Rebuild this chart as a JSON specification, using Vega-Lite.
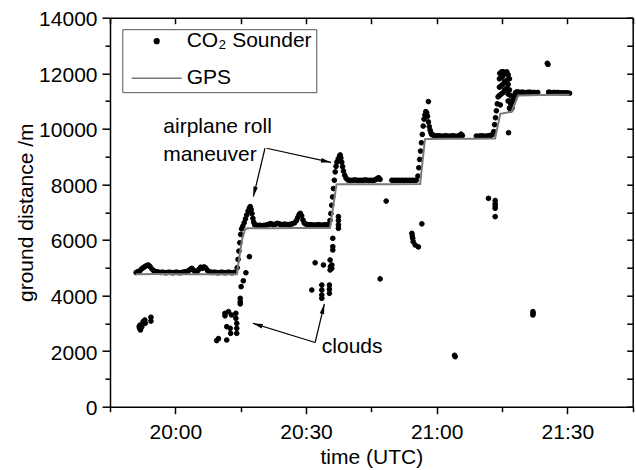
{
  "$schema": "https://vega.github.io/schema/vega-lite/v6.json",
  "width": 522.7,
  "height": 389,
  "autosize": {"type": "none"},
  "padding": {"left": 110, "top": 17.7, "right": 3.3, "bottom": 63.3},
  "background": "white",
  "config": {
    "font": "Liberation Sans",
    "view": {"stroke": null},
    "axis": {
      "grid": false,
      "domainColor": "black",
      "tickColor": "black",
      "labelColor": "black",
      "titleColor": "black",
      "domainWidth": 1.5,
      "tickWidth": 1.5,
      "labelFontSize": 21,
      "titleFontSize": 21,
      "titleFontWeight": "normal",
      "labelFont": "Liberation Sans",
      "titleFont": "Liberation Sans"
    }
  },
  "datasets": {
    "co2": [
      {"t":1191.0,"d":4830},{"t":1191.4,"d":4860},{"t":1191.8,"d":4880},{"t":1192.2,"d":4950},{"t":1192.6,"d":5000},{"t":1193.0,"d":5040},{"t":1193.4,"d":5080},{"t":1193.8,"d":5100},{"t":1194.2,"d":5040},{"t":1194.6,"d":4960},{"t":1195.0,"d":4900},{"t":1195.4,"d":4860},{"t":1195.8,"d":4850},{"t":1196.2,"d":4840},{"t":1196.6,"d":4830},{"t":1197.0,"d":4840},{"t":1197.4,"d":4830},{"t":1197.8,"d":4820},{"t":1198.2,"d":4830},{"t":1198.6,"d":4840},{"t":1199.0,"d":4830},{"t":1199.4,"d":4820},{"t":1199.8,"d":4830},{"t":1200.2,"d":4840},{"t":1200.6,"d":4830},{"t":1201.0,"d":4820},{"t":1201.4,"d":4830},{"t":1201.8,"d":4840},{"t":1202.2,"d":4850},{"t":1202.6,"d":4860},{"t":1203.0,"d":4890},{"t":1203.4,"d":4940},{"t":1203.8,"d":4980},{"t":1204.2,"d":4910},{"t":1204.6,"d":4860},{"t":1205.0,"d":4860},{"t":1205.4,"d":4940},{"t":1205.8,"d":5020},{"t":1206.2,"d":4980},{"t":1206.6,"d":5030},{"t":1207.0,"d":4990},{"t":1207.4,"d":4900},{"t":1207.8,"d":4850},{"t":1208.2,"d":4840},{"t":1208.6,"d":4830},{"t":1209.0,"d":4840},{"t":1209.4,"d":4830},{"t":1209.8,"d":4820},{"t":1210.2,"d":4830},{"t":1210.6,"d":4840},{"t":1211.0,"d":4830},{"t":1211.4,"d":4820},{"t":1211.8,"d":4830},{"t":1212.2,"d":4840},{"t":1212.6,"d":4830},{"t":1213.0,"d":4820},{"t":1213.4,"d":4830},{"t":1213.8,"d":4840},
      {"t":1214.2,"d":5000},{"t":1214.4,"d":5300},{"t":1214.6,"d":5600},{"t":1214.8,"d":5900},{"t":1215.0,"d":6200},{"t":1215.2,"d":6400},
      {"t":1215.5,"d":6500},{"t":1215.8,"d":6620},{"t":1216.1,"d":6760},{"t":1216.4,"d":6900},{"t":1216.7,"d":7040},{"t":1217.0,"d":7150},{"t":1217.2,"d":7200},{"t":1217.4,"d":7100},{"t":1217.6,"d":6950},{"t":1217.8,"d":6780},{"t":1218.0,"d":6640},
      {"t":1218.2,"d":6550},{"t":1218.6,"d":6530},{"t":1219.0,"d":6520},{"t":1219.4,"d":6530},{"t":1219.8,"d":6510},{"t":1220.2,"d":6520},{"t":1220.6,"d":6530},{"t":1221.0,"d":6540},{"t":1221.4,"d":6560},{"t":1221.8,"d":6590},{"t":1222.2,"d":6570},{"t":1222.6,"d":6550},{"t":1223.0,"d":6570},{"t":1223.4,"d":6600},{"t":1223.8,"d":6580},{"t":1224.2,"d":6560},{"t":1224.6,"d":6550},{"t":1225.0,"d":6570},{"t":1225.4,"d":6560},{"t":1225.8,"d":6550},{"t":1226.2,"d":6560},{"t":1226.6,"d":6570},{"t":1227.0,"d":6590},{"t":1227.4,"d":6620},{"t":1227.8,"d":6700},{"t":1228.1,"d":6810},{"t":1228.4,"d":6910},{"t":1228.7,"d":6960},{"t":1229.0,"d":6870},{"t":1229.3,"d":6720},{"t":1229.6,"d":6610},{"t":1230.0,"d":6570},{"t":1230.4,"d":6550},{"t":1230.8,"d":6540},{"t":1231.2,"d":6550},{"t":1231.6,"d":6540},{"t":1232.0,"d":6530},{"t":1232.4,"d":6540},{"t":1232.8,"d":6550},{"t":1233.2,"d":6540},{"t":1233.6,"d":6530},{"t":1234.0,"d":6540},{"t":1234.4,"d":6550},{"t":1234.8,"d":6540},{"t":1235.2,"d":6550},
      {"t":1235.5,"d":6700},{"t":1235.7,"d":6950},{"t":1235.9,"d":7250},{"t":1236.1,"d":7550},{"t":1236.3,"d":7850},{"t":1236.5,"d":8150},{"t":1236.7,"d":8450},{"t":1236.9,"d":8650},
      {"t":1237.1,"d":8800},{"t":1237.4,"d":8920},{"t":1237.7,"d":9020},{"t":1237.85,"d":9060},{"t":1238.0,"d":8950},{"t":1238.2,"d":8800},{"t":1238.4,"d":8640},{"t":1238.6,"d":8480},{"t":1238.9,"d":8330},{"t":1239.2,"d":8220},
      {"t":1239.6,"d":8160},{"t":1240.0,"d":8150},{"t":1240.4,"d":8140},{"t":1240.8,"d":8150},{"t":1241.2,"d":8160},{"t":1241.6,"d":8150},{"t":1242.0,"d":8140},{"t":1242.4,"d":8150},{"t":1242.8,"d":8140},{"t":1243.2,"d":8150},{"t":1243.6,"d":8160},{"t":1244.0,"d":8150},{"t":1244.4,"d":8140},{"t":1244.8,"d":8150},{"t":1245.2,"d":8140},{"t":1245.6,"d":8150},{"t":1246.0,"d":8170},{"t":1246.4,"d":8220},{"t":1246.7,"d":8240},{"t":1247.0,"d":8180},
      {"t":1249.7,"d":8150},{"t":1250.1,"d":8140},{"t":1250.5,"d":8150},{"t":1250.9,"d":8140},{"t":1251.3,"d":8150},{"t":1251.7,"d":8140},{"t":1252.1,"d":8150},{"t":1252.5,"d":8140},{"t":1252.9,"d":8150},{"t":1253.3,"d":8140},{"t":1253.7,"d":8150},{"t":1254.1,"d":8140},{"t":1254.5,"d":8150},{"t":1254.9,"d":8140},{"t":1255.3,"d":8150},
      {"t":1255.7,"d":8300},{"t":1255.9,"d":8600},{"t":1256.1,"d":8900},{"t":1256.3,"d":9200},{"t":1256.5,"d":9500},{"t":1256.7,"d":9800},{"t":1256.9,"d":10100},{"t":1257.1,"d":10350},{"t":1257.3,"d":10500},{"t":1257.5,"d":10620},{"t":1257.7,"d":10580},{"t":1257.9,"d":10450},{"t":1258.1,"d":10980},{"t":1258.1,"d":10250},{"t":1258.3,"d":10080},{"t":1258.5,"d":9950},{"t":1258.7,"d":9850},
      {"t":1258.9,"d":9790},{"t":1259.3,"d":9770},{"t":1259.7,"d":9750},{"t":1260.1,"d":9740},{"t":1260.5,"d":9750},{"t":1260.9,"d":9740},{"t":1261.3,"d":9730},{"t":1261.7,"d":9740},{"t":1262.1,"d":9750},{"t":1262.5,"d":9740},{"t":1262.9,"d":9730},{"t":1263.3,"d":9740},{"t":1263.7,"d":9750},{"t":1264.1,"d":9740},{"t":1264.5,"d":9730},{"t":1264.9,"d":9740},{"t":1265.3,"d":9760},{"t":1265.6,"d":9810},{"t":1265.9,"d":9760},
      {"t":1269.1,"d":9740},{"t":1269.5,"d":9730},{"t":1269.9,"d":9740},{"t":1270.3,"d":9750},{"t":1270.7,"d":9740},{"t":1271.1,"d":9730},{"t":1271.5,"d":9740},{"t":1271.9,"d":9750},{"t":1272.3,"d":9760},{"t":1272.7,"d":9780},
      {"t":1273.1,"d":9900},{"t":1273.3,"d":10150},{"t":1273.5,"d":10400},{"t":1273.7,"d":10650},{"t":1273.9,"d":10900},{"t":1274.1,"d":11150},
      {"t":1274.4,"d":11200},{"t":1274.4,"d":11500},{"t":1274.4,"d":11800},{"t":1274.5,"d":12000},{"t":1274.8,"d":11250},{"t":1274.8,"d":11550},{"t":1274.8,"d":11850},{"t":1274.9,"d":12050},{"t":1275.2,"d":11300},{"t":1275.2,"d":11600},{"t":1275.2,"d":11900},{"t":1275.3,"d":12050},{"t":1275.6,"d":11400},{"t":1275.6,"d":11700},{"t":1275.6,"d":12000},
      {"t":1276.1,"d":12050},{"t":1276.1,"d":11750},{"t":1276.1,"d":11450},{"t":1276.4,"d":11950},{"t":1276.4,"d":11600},{"t":1276.4,"d":11250},{"t":1276.4,"d":11000},{"t":1276.7,"d":11800},{"t":1276.7,"d":11400},{"t":1276.7,"d":11000},{"t":1276.7,"d":10750},{"t":1277.0,"d":11200},{"t":1277.0,"d":10900},{"t":1277.0,"d":10680},{"t":1277.3,"d":10750},{"t":1277.3,"d":10950},{"t":1277.6,"d":11050},{"t":1277.9,"d":11200},{"t":1278.1,"d":11300},{"t":1274.6,"d":10860},{"t":1276.5,"d":9860},
      {"t":1278.4,"d":11330},{"t":1278.8,"d":11320},{"t":1279.2,"d":11310},{"t":1279.6,"d":11320},{"t":1280.0,"d":11310},{"t":1280.4,"d":11300},{"t":1280.8,"d":11310},{"t":1281.2,"d":11320},{"t":1281.6,"d":11310},{"t":1282.0,"d":11300},{"t":1282.4,"d":11310},{"t":1282.8,"d":11300},{"t":1283.2,"d":11310},
      {"t":1285.7,"d":11320},{"t":1286.1,"d":11310},{"t":1286.5,"d":11300},{"t":1286.9,"d":11310},{"t":1287.3,"d":11300},{"t":1287.7,"d":11310},{"t":1288.1,"d":11300},{"t":1288.5,"d":11290},{"t":1288.9,"d":11300},{"t":1289.3,"d":11290},{"t":1289.7,"d":11300},{"t":1290.1,"d":11290},{"t":1290.5,"d":11280},
      {"t":1285.4,"d":12360},{"t":1285.55,"d":12320},
      {"t":1191.7,"d":2880},{"t":1191.8,"d":2820},{"t":1191.9,"d":2940},{"t":1192.0,"d":2760},{"t":1192.3,"d":2870},{"t":1192.6,"d":3060},{"t":1193.0,"d":3120},{"t":1193.1,"d":3000},{"t":1194.4,"d":3220},{"t":1194.4,"d":3080},
      {"t":1209.5,"d":2380},{"t":1209.9,"d":2450},{"t":1211.8,"d":2400},{"t":1211.4,"d":3360},{"t":1211.4,"d":3270},{"t":1212.2,"d":3420},{"t":1212.9,"d":3300},{"t":1213.9,"d":3360},{"t":1213.9,"d":3180},{"t":1214.1,"d":3000},{"t":1214.1,"d":2820},{"t":1214.1,"d":2640},{"t":1211.8,"d":2880},{"t":1212.6,"d":2820},{"t":1212.7,"d":2640},
      {"t":1214.9,"d":3700},{"t":1214.9,"d":3780},{"t":1214.9,"d":3900},{"t":1215.1,"d":4320},{"t":1215.6,"d":4530},{"t":1216.2,"d":4820},{"t":1217.0,"d":5400},
      {"t":1237.44,"d":6840},{"t":1237.44,"d":6700},{"t":1237.44,"d":6540},{"t":1237.44,"d":6420},{"t":1236.15,"d":6060},{"t":1236.15,"d":5760},{"t":1236.15,"d":5640},{"t":1235.53,"d":5280},{"t":1235.92,"d":5100},{"t":1235.53,"d":4920},{"t":1235.92,"d":4980},{"t":1235.6,"d":5040},{"t":1234.0,"d":5100},{"t":1232.09,"d":5180},
      {"t":1233.63,"d":4380},{"t":1233.63,"d":4200},{"t":1233.63,"d":4020},{"t":1233.63,"d":3900},{"t":1235.37,"d":4380},{"t":1235.37,"d":4230},{"t":1235.37,"d":4080},{"t":1231.33,"d":4200},
      {"t":1247.02,"d":4600},{"t":1248.4,"d":7400},{"t":1254.3,"d":6240},{"t":1254.4,"d":6140},{"t":1254.5,"d":6060},{"t":1254.6,"d":5940},{"t":1255.06,"d":5820},{"t":1255.8,"d":5750},{"t":1256.6,"d":6580},
      {"t":1264.1,"d":1850},{"t":1264.25,"d":1800},
      {"t":1271.89,"d":7500},{"t":1273.43,"d":7420},{"t":1273.43,"d":7300},{"t":1273.43,"d":7220},{"t":1273.43,"d":7140},{"t":1273.43,"d":6840},
      {"t":1282.09,"d":3420},{"t":1282.09,"d":3300},{"t":1282.15,"d":3360}
    ],
    "gps": [
      {"t":1190.9,"d":4770},{"t":1196,"d":4775},{"t":1202,"d":4765},{"t":1208,"d":4770},{"t":1214.1,"d":4770},
      {"t":1215.3,"d":6000},{"t":1216.0,"d":6380},{"t":1216.5,"d":6420},{"t":1222,"d":6420},{"t":1228,"d":6430},{"t":1235.5,"d":6430},
      {"t":1237.0,"d":8000},{"t":1237.4,"d":8010},{"t":1244,"d":8010},{"t":1250,"d":8010},{"t":1256.2,"d":8015},
      {"t":1257.3,"d":9620},{"t":1257.7,"d":9635},{"t":1263,"d":9640},{"t":1268,"d":9640},{"t":1273.4,"d":9650},
      {"t":1274.6,"d":10540},{"t":1277.2,"d":10620},{"t":1278.7,"d":11200},{"t":1284,"d":11220},{"t":1290.5,"d":11230}
    ],
    "arrows": [
      {"t":1220.58,"d":9302,"t2":1217.92,"d2":7560},
      {"t":1220.97,"d":9302,"t2":1235.76,"d2":8791},
      {"t":1232.09,"d":2311,"t2":1234.22,"d2":3697},
      {"t":1232.09,"d":2311,"t2":1217.78,"d2":3002}
    ],
    "heads": [
      {"t":1218.17,"d":7736,"k":"r1"},
      {"t":1234.61,"d":8831,"k":"r2"},
      {"t":1233.92,"d":3521,"k":"c1"},
      {"t":1218.86,"d":2948,"k":"c2"}
    ],
    "notes": [
      {"t":1197.24,"d":9842,"txt":"airplane roll"},
      {"t":1197.24,"d":8856,"txt":"maneuver"},
      {"t":1233.63,"d":1922,"txt":"clouds"}
    ]
  },
  "resolve": {"axis": {"x": "independent", "y": "independent"}},
  "layer": [
    {
      "data": {"name": "co2"},
      "mark": {"type": "point", "filled": true, "opacity": 1, "strokeWidth": 1},
      "encoding": {
        "x": {
          "field": "t", "type": "quantitative",
          "scale": {"domain": [1185, 1305], "nice": false, "zero": false},
          "axis": {
            "orient": "bottom",
            "values": [1200, 1230, 1260, 1290],
            "labelExpr": "floor(datum.value / 60) + ':' + (datum.value % 60 < 10 ? '0' : '') + (datum.value % 60)",
            "tickSize": 7,
            "labelBaseline": "alphabetic",
            "labelPadding": 24.6,
            "labelFlush": false,
            "title": "time (UTC)",
            "titleBaseline": "alphabetic",
            "titleY": 56.6
          }
        },
        "y": {
          "field": "d", "type": "quantitative",
          "scale": {"domain": [0, 14000], "nice": false, "zero": true},
          "axis": {
            "orient": "left",
            "values": [0, 2000, 4000, 6000, 8000, 10000, 12000, 14000],
            "format": "d",
            "tickSize": 8,
            "labelPadding": 5,
            "labelOffset": 2,
            "labelFlush": false,
            "title": "ground distance /m",
            "titleBaseline": "alphabetic",
            "titleX": -78,
            "titleY": 194.5,
            "titleAngle": -90
          }
        },
        "color": {
          "datum": "CO₂ Sounder",
          "type": "nominal",
          "scale": {"domain": ["CO₂ Sounder", "GPS"], "range": ["black", "#7a7a7a"]},
          "legend": {
            "orient": "none",
            "legendX": 12.3,
            "legendY": 11.5,
            "title": null,
            "symbolOffset": 4.4,
            "symbolStrokeWidth": 1.5,
            "clipHeight": 16,
            "rowPadding": 16,
            "padding": 4,
            "strokeColor": "#555555",
            "fillColor": "white",
            "labelFont": "Liberation Sans",
            "labelFontSize": 21,
            "labelColor": "black",
            "labelOffset": 4
          }
        },
        "stroke": {
          "datum": "CO₂ Sounder",
          "type": "nominal",
          "scale": {"domain": ["CO₂ Sounder", "GPS"], "range": ["black", "#7a7a7a"]}
        },
        "shape": {
          "datum": "CO₂ Sounder",
          "type": "nominal",
          "scale": {"domain": ["CO₂ Sounder", "GPS"], "range": ["circle", "stroke"]}
        },
        "size": {
          "datum": "CO₂ Sounder",
          "type": "nominal",
          "scale": {"type": "point", "domain": ["CO₂ Sounder", "GPS"], "range": [22, 2500], "padding": 0}
        }
      }
    },
    {
      "data": {"name": "gps"},
      "mark": {"type": "line", "color": "#7a7a7a", "strokeWidth": 2},
      "encoding": {
        "x": {
          "field": "t", "type": "quantitative",
          "scale": {"domain": [1185, 1305], "nice": false, "zero": false},
          "axis": {"orient": "bottom", "values": [1185, 1215, 1245, 1275, 1305], "labels": false, "domain": false, "tickSize": 5, "title": null}
        },
        "y": {
          "field": "d", "type": "quantitative",
          "scale": {"domain": [0, 14000], "nice": false, "zero": true},
          "axis": {"orient": "left", "values": [1000, 3000, 5000, 7000, 9000, 11000, 13000], "labels": false, "domain": false, "tickSize": 5, "title": null}
        }
      }
    },
    {
      "data": {"name": "arrows"},
      "mark": {"type": "rule", "color": "black", "strokeWidth": 1.2},
      "encoding": {
        "x": {
          "field": "t", "type": "quantitative",
          "scale": {"domain": [1185, 1305], "nice": false, "zero": false},
          "axis": {"orient": "top", "values": [1185, 1200, 1215, 1230, 1245, 1260, 1275, 1290, 1305], "labels": false, "tickSize": -6, "title": null}
        },
        "y": {
          "field": "d", "type": "quantitative",
          "scale": {"domain": [0, 14000], "nice": false, "zero": true},
          "axis": {"orient": "right", "values": [0, 1000, 2000, 3000, 4000, 5000, 6000, 7000, 8000, 9000, 10000, 11000, 12000, 13000, 14000], "labels": false, "tickSize": -6, "title": null}
        },
        "x2": {"field": "t2"},
        "y2": {"field": "d2"}
      }
    },
    {
      "data": {"name": "heads"},
      "transform": [{"filter": "datum.k === 'r1'"}],
      "mark": {"type": "point", "shape": "M0,-1L0.45,1L-0.45,1Z", "filled": true, "color": "black", "opacity": 1, "size": 100, "angle": 193.6},
      "encoding": {
        "x": {"field": "t", "type": "quantitative", "scale": {"domain": [1185, 1305], "nice": false, "zero": false}, "axis": null},
        "y": {"field": "d", "type": "quantitative", "scale": {"domain": [0, 14000], "nice": false, "zero": true}, "axis": null}
      }
    },
    {
      "data": {"name": "heads"},
      "transform": [{"filter": "datum.k === 'r2'"}],
      "mark": {"type": "point", "shape": "M0,-1L0.45,1L-0.45,1Z", "filled": true, "color": "black", "opacity": 1, "size": 100, "angle": 102.6},
      "encoding": {
        "x": {"field": "t", "type": "quantitative", "scale": {"domain": [1185, 1305], "nice": false, "zero": false}, "axis": null},
        "y": {"field": "d", "type": "quantitative", "scale": {"domain": [0, 14000], "nice": false, "zero": true}, "axis": null}
      }
    },
    {
      "data": {"name": "heads"},
      "transform": [{"filter": "datum.k === 'c1'"}],
      "mark": {"type": "point", "shape": "M0,-1L0.45,1L-0.45,1Z", "filled": true, "color": "black", "opacity": 1, "size": 100, "angle": 13.6},
      "encoding": {
        "x": {"field": "t", "type": "quantitative", "scale": {"domain": [1185, 1305], "nice": false, "zero": false}, "axis": null},
        "y": {"field": "d", "type": "quantitative", "scale": {"domain": [0, 14000], "nice": false, "zero": true}, "axis": null}
      }
    },
    {
      "data": {"name": "heads"},
      "transform": [{"filter": "datum.k === 'c2'"}],
      "mark": {"type": "point", "shape": "M0,-1L0.45,1L-0.45,1Z", "filled": true, "color": "black", "opacity": 1, "size": 100, "angle": 287.2},
      "encoding": {
        "x": {"field": "t", "type": "quantitative", "scale": {"domain": [1185, 1305], "nice": false, "zero": false}, "axis": null},
        "y": {"field": "d", "type": "quantitative", "scale": {"domain": [0, 14000], "nice": false, "zero": true}, "axis": null}
      }
    },
    {
      "data": {"name": "notes"},
      "mark": {"type": "text", "align": "left", "baseline": "alphabetic", "font": "Liberation Sans", "fontSize": 21, "color": "black"},
      "encoding": {
        "x": {"field": "t", "type": "quantitative", "scale": {"domain": [1185, 1305], "nice": false, "zero": false}, "axis": null},
        "y": {"field": "d", "type": "quantitative", "scale": {"domain": [0, 14000], "nice": false, "zero": true}, "axis": null},
        "text": {"field": "txt"}
      }
    }
  ]
}
